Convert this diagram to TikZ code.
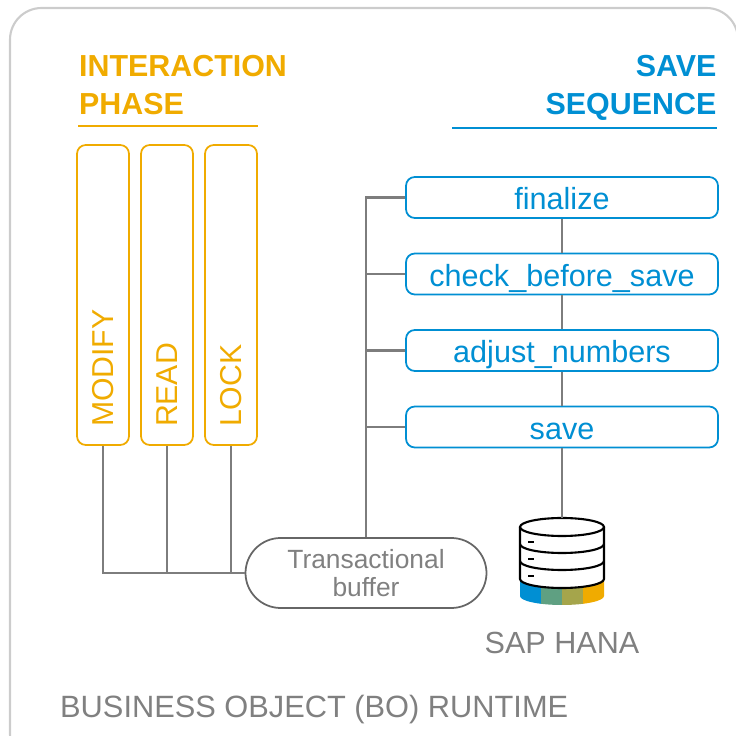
\documentclass[tikz,border=0pt]{standalone}
\usepackage{fontspec}
\setmainfont{Liberation Sans}
\definecolor{saporange}{RGB}{240,171,0}
\definecolor{sapblue}{RGB}{0,143,211}
\definecolor{sapgrey}{RGB}{128,128,128}
\definecolor{linegrey}{RGB}{125,125,125}
\definecolor{sapteal}{RGB}{95,160,130}
\definecolor{sapolive}{RGB}{165,165,75}
\tikzset{
    phasebox/.style={draw=saporange,line width=0.5pt,rounded corners=2.5pt,minimum width=3cm,minimum height=0.52cm,text width=2.64cm,align=left,text=saporange,font=\fontsize{8.6}{9}\selectfont,rotate=90,inner sep=0pt},
    savebox/.style={draw=sapblue,line width=0.5pt,rounded corners=2.5pt,minimum width=3.12cm,minimum height=0.41cm,text height=7pt,text depth=0pt,text=sapblue,font=\fontsize{8.7}{9}\selectfont,inner sep=0pt},
    link/.style={draw=linegrey,line width=0.6pt},
    headline/.style={font=\fontsize{8.65}{10.6}\selectfont\bfseries,inner sep=0pt}
}
\begin{document}
\begin{tikzpicture}
    \useasboundingbox (0,0) rectangle (7.36,7.36);
    \clip (0,0) rectangle (7.36,7.36);

    \draw[draw=black!20,line width=0.6pt,rounded corners=9pt] (0.1,-0.3) rectangle (7.38,7.28);

    % headings
    \node[headline,text=saporange,align=left,anchor=north west] (interaction) at (0.785,6.81) {INTERACTION\\PHASE};
    \node[headline,text=sapblue,align=right,anchor=north east] (sequence) at (7.17,6.81) {SAVE\\SEQUENCE};
    \draw[saporange,line width=0.5pt] (0.78,6.1) -- (2.58,6.1);
    \draw[sapblue,line width=0.5pt] (4.52,6.08) -- (7.17,6.08);

    % interaction phase
    \node[phasebox] (modify) at (1.03,4.41) {MODIFY};
    \node[phasebox] (read) at (1.67,4.41) {READ};
    \node[phasebox] (lock) at (2.31,4.41) {LOCK};

    % save sequence
    \node[savebox] (finalize) at (5.62,5.385) {finalize};
    \node[savebox] (check) at (5.62,4.62) {check\_before\_save};
    \node[savebox] (adjust) at (5.62,3.855) {adjust\_numbers};
    \node[savebox] (save) at (5.62,3.09) {save};

    \node[draw=black!60,line width=0.5pt,rounded corners=10pt,minimum width=2.41cm,minimum height=0.7cm,align=center,text=sapgrey,font=\fontsize{7.5}{8.2}\selectfont,inner sep=0pt] (buffer) at (3.66,1.63) {Transactional\\buffer};

    % database
    \coordinate (dbtop) at (5.62,2.18);
    \foreach \xa/\xb/\col in {5.2/5.41/sapblue,5.41/5.62/sapteal,5.62/5.83/sapolive,5.83/6.05/saporange}{
        \begin{scope}
            \clip (\xa,1.2) rectangle (\xb,2);
            \fill[\col] (5.2,1.4) -- (5.2,1.6) -- (6.04,1.6) -- (6.04,1.4) arc (0:-180:0.42 and 0.09);
        \end{scope}
    }
    \fill[white] (5.2,2.09) -- (5.2,1.57) arc (180:360:0.42 and 0.09) -- (6.04,2.09) -- cycle;
    \draw[black,line width=0.6pt] (5.62,2.09) ellipse (0.42 and 0.09);
    \draw[black,line width=0.6pt] (5.2,2.09) -- (5.2,1.57) arc (180:360:0.42 and 0.09) -- (6.04,2.09);
    \draw[black,line width=0.6pt] (5.2,1.92) arc (180:360:0.42 and 0.09);
    \draw[black,line width=0.6pt] (5.2,1.75) arc (180:360:0.42 and 0.09);
    \foreach \y in {1.94,1.77,1.6}
        \draw[black,line width=0.6pt] (5.28,\y) -- (5.34,\y);

    \node[text=sapgrey,font=\fontsize{8.7}{9}\selectfont,inner sep=0pt] (hana) at (5.62,0.93) {SAP HANA};
    \node[text=sapgrey,font=\fontsize{8.76}{9}\selectfont,inner sep=0pt,anchor=west] (runtime) at (0.595,0.265) {BUSINESS OBJECT (BO) RUNTIME};

    % connectors
    \draw[link] (finalize) -- (check);
    \draw[link] (check) -- (adjust);
    \draw[link] (adjust) -- (save);
    \draw[link] (save) -- (dbtop);
    \draw[link] (modify.west) |- (buffer.west);
    \draw[link] (read.west) |- (buffer.west);
    \draw[link] (lock.west) |- (buffer.west);
    \draw[link] (buffer.north) |- (finalize.west);
    \draw[link] (buffer.north) |- (check.west);
    \draw[link] (buffer.north) |- (adjust.west);
    \draw[link] (buffer.north) |- (save.west);
\end{tikzpicture}
\end{document}
